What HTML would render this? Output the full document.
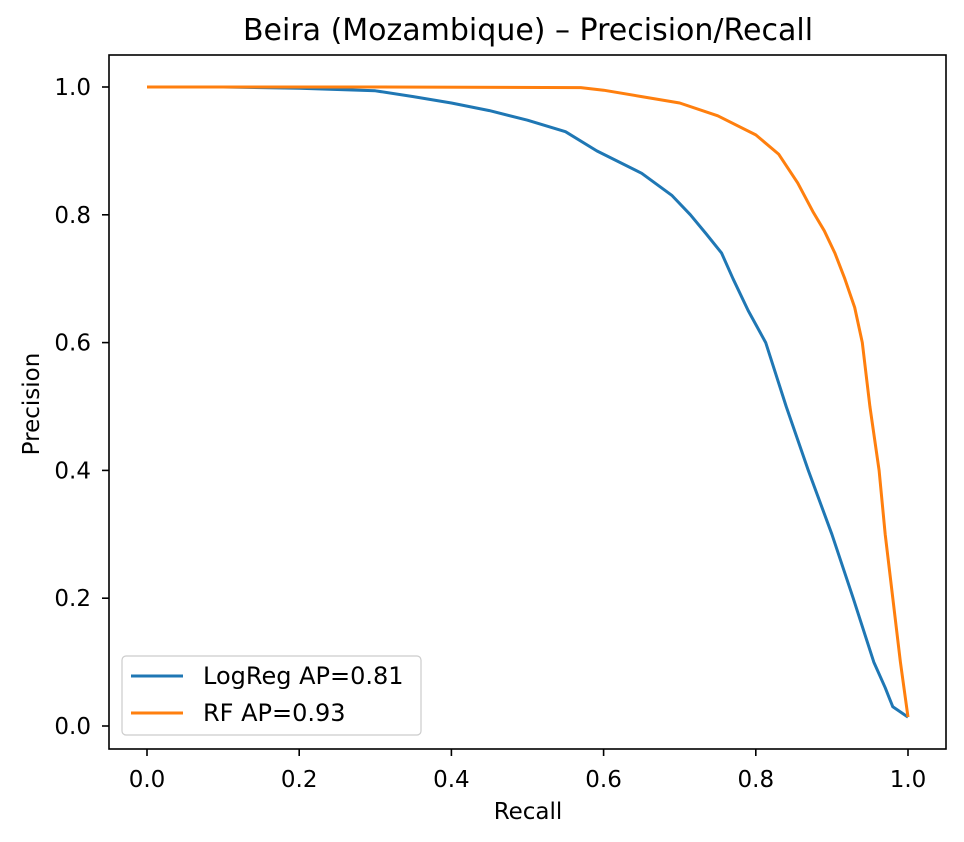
<!DOCTYPE html>
<html><head><meta charset="utf-8"><style>
body{margin:0;background:#fff;}
svg text{font-family:"DejaVu Sans","Liberation Sans",sans-serif;fill:#000;}
</style></head><body>
<svg id="chart" width="964" height="842" style="position:absolute;left:0;top:0">
<rect x="0" y="0" width="964" height="842" fill="#fff"/>
<g id="plot"></g>
<text x="528" y="40" text-anchor="middle" font-size="30">Beira (Mozambique) – Precision/Recall</text>
<text x="528" y="819" text-anchor="middle" font-size="23">Recall</text>
<text x="39" y="404" text-anchor="middle" font-size="23" transform="rotate(-90 39 404)">Precision</text>
<g>
<rect x="122" y="656" width="299" height="79" rx="4" fill="#fff" fill-opacity="0.85" stroke="#ccc" stroke-width="1.2"/>
<line x1="131" y1="676" x2="183" y2="676" stroke="#1f77b4" stroke-width="3"/>
<text x="203" y="684" font-size="24">LogReg AP=0.81</text>
<line x1="131" y1="713" x2="183" y2="713" stroke="#ff7f0e" stroke-width="3"/>
<text x="203" y="721" font-size="24">RF AP=0.93</text>
</g>
</svg>
<script>
const xTicks = [0.0, 0.2, 0.4, 0.6, 0.8, 1.0];
const yTicks = [0.0, 0.2, 0.4, 0.6, 0.8, 1.0];
const logregRecall = [0,0.1,0.2,0.3,0.35,0.4,0.45,0.5,0.55,0.591,0.65,0.69,0.714,0.735,0.755,0.77,0.79,0.813,0.84,0.869,0.9,0.928,0.955,0.97,0.98,1.0];
const logregPrecision = [1.0,1.0,0.998,0.994,0.985,0.975,0.963,0.948,0.93,0.9,0.865,0.83,0.8,0.77,0.74,0.7,0.65,0.6,0.5,0.4,0.3,0.2,0.1,0.06,0.03,0.014];
const rfRecall = [0,0.3,0.57,0.6,0.65,0.7,0.75,0.8,0.83,0.855,0.875,0.89,0.904,0.917,0.93,0.94,0.95,0.962,0.97,0.98,0.99,1.0];
const rfPrecision = [1.0,1.0,0.999,0.995,0.985,0.975,0.955,0.925,0.895,0.85,0.805,0.775,0.74,0.7,0.655,0.6,0.5,0.4,0.3,0.2,0.1,0.014];

const NS = "http://www.w3.org/2000/svg";
const L=109,R=946,T=55,B=749;
const X=v=>147+v*761;
const Y=v=>726-v*639;
const g=document.getElementById('plot');
function mk(t,a,p){const e=document.createElementNS(NS,t);for(const k in a)e.setAttribute(k,a[k]);(p||g).appendChild(e);return e;}

function line(xs,ys,color,name){
  const d=xs.map((x,i)=>(i?'L':'M')+X(x).toFixed(1)+','+Y(ys[i]).toFixed(1)).join('');
  const p=mk('path',{d:d,fill:'none',stroke:color,'stroke-width':3,'stroke-linejoin':'round'});
  
  
}
line(logregRecall,logregPrecision,'#1f77b4','logreg-line');
line(rfRecall,rfPrecision,'#ff7f0e','rf-line');

const frame=mk('rect',{x:L,y:T,width:R-L,height:B-T,fill:'none',stroke:'#000','stroke-width':1.6});



xTicks.forEach(v=>{
  const tk=mk('line',{x1:X(v),x2:X(v),y1:B,y2:B+7,stroke:'#000','stroke-width':1.6});
  
  
  const t=mk('text',{x:X(v),y:B+38,'text-anchor':'middle','font-size':23});
  t.textContent=v.toFixed(1);
  
  
});
yTicks.forEach(v=>{
  const tk=mk('line',{x1:L-7,x2:L,y1:Y(v),y2:Y(v),stroke:'#000','stroke-width':1.6});
  
  
  const t=mk('text',{x:91,y:Y(v)+8,'text-anchor':'end','font-size':23});
  t.textContent=v.toFixed(1);
  
  
});
</script>
</body></html>
